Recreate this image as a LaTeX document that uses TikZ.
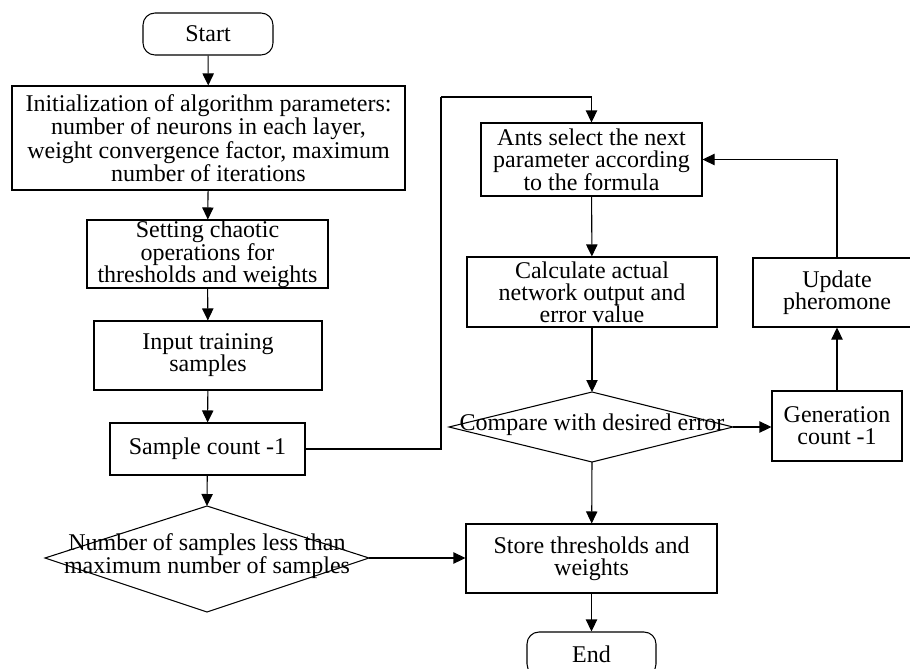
\documentclass[tikz,border=0pt]{standalone}
\usepackage{fontspec}
\setmainfont{Liberation Serif}
\usetikzlibrary{arrows.meta}
\begin{document}
\begin{tikzpicture}[x=0.75pt,y=-0.75pt,
  font=\fontsize{18}{16.5}\selectfont,
  line width=0.8pt,
  box/.style 2 args={draw, inner sep=0pt, align=center, minimum width=#1*0.75pt, minimum height=#2*0.75pt},
  term/.style 2 args={box={#1}{#2}, rounded corners=9pt},
  arr/.style={-{Triangle[width=8.5pt,length=9pt]}},
  dtext/.style={align=center, inner sep=0pt}]
\useasboundingbox (0,0) rectangle (910,668);

% left column
\node[term={130}{42}] (start) at (208,34) {Start};
\node[box={393}{104}] (init) at (208.5,138) {Initialization of algorithm parameters:\\number of neurons in each layer,\\weight convergence factor, maximum\\number of iterations};
\node[box={241}{68}] (chaos) at (207.5,254) {Setting chaotic\\operations for\\thresholds and weights};
\node[box={228}{69}] (input) at (208,355.5) {Input training\\samples};
\node[box={195}{52}] (sample) at (207.5,449) {Sample count -1};

% left diamond
\coordinate (d1t) at (207,506);
\coordinate (d1r) at (369,558);
\coordinate (d1b) at (207,612);
\coordinate (d1l) at (45,558);
\draw (d1t) -- (d1r) -- (d1b) -- (d1l) -- cycle;
\node[dtext] (d1) at (207,556) {Number of samples less than\\maximum number of samples};

% right column
\node[box={221}{73}] (ants) at (591.5,159.5) {Ants select the next\\parameter according\\to the formula};
\node[box={250}{70}] (calc) at (592,292) {Calculate actual\\network output and\\error value};
\node[box={168}{69}] (upd) at (837,292.5) {Update\\pheromone};

\coordinate (d2t) at (592,392);
\coordinate (d2r) at (733,427);
\coordinate (d2b) at (592,462);
\coordinate (d2l) at (449,427);
\draw (d2t) -- (d2r) -- (d2b) -- (d2l) -- cycle;
\node[dtext] (d2) at (592,425) {Compare with desired error};

\node[box={130}{70}] (gen) at (837,426) {Generation\\count -1};
\node[box={251}{69}] (store) at (591.5,558.5) {Store thresholds and\\weights};
\node[term={129}{44}] (end) at (591.5,654) {End};

\coordinate (c1) at (441,97);

% connectors
\draw[arr] (start) -- (init);
\draw[arr] (init) -- (chaos);
\draw[arr] (chaos) -- (input);
\draw[arr] (input) -- (sample);
\draw[arr] (sample) -- (d1t);
\draw (sample.east) -| (c1);
\draw[arr] (c1) -| (ants.north);
\draw[arr] (ants) -- (calc);
\draw[arr] (calc) -- (d2t);
\draw[arr] (d2r) -- (gen.west |- d2r);
\draw[arr] (gen) -- (upd);
\draw[arr] (upd.north) |- (ants.east);
\draw[arr] (d2b) -- (store);
\draw[arr] (d1r) -- (store.west |- d1r);
\draw[arr] (store) -- (end);
\end{tikzpicture}
\end{document}
